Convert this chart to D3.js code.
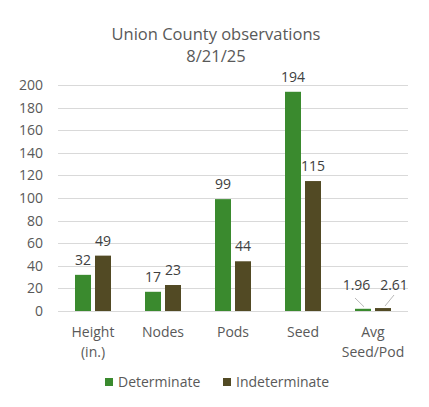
<!DOCTYPE html>
<html><head><meta charset="utf-8">
<script src="https://cdn.jsdelivr.net/npm/d3@7"></script>
<style>html,body{margin:0;padding:0;background:#fff;} svg{display:block;font-family:"Open Sans", Roboto, sans-serif;}</style>
</head><body><svg id="c" width="429" height="407"></svg>
<script>
const categories = [["Height","(in.)"],["Nodes"],["Pods"],["Seed"],["Avg","Seed/Pod"]];
const seriesNames = ["Determinate","Indeterminate"];
const determinate = [32,17,99,194,1.96];
const indeterminate = [49,23,44,115,2.61];
const yTicks = [0,20,40,60,80,100,120,140,160,180,200];
const colors = ["#3A8A2E","#524A24"];
const FONT = "'Open Sans', Roboto, sans-serif";

const svg = d3.select("#c");
const W = 429, H = 407;
const x0 = d3.scaleBand().domain(d3.range(categories.length)).range([58,408]).paddingInner(0).paddingOuter(0);
const x1 = d3.scaleBand().domain([0,1]).range([17,53]).paddingInner(0.2);
const y = d3.scaleLinear().domain([0,200]).range([311,85]);

svg.append("rect").attr("width",W).attr("height",H).attr("fill","#fff");

// title
const title = svg.append("text").attr("x",216).attr("text-anchor","middle").attr("fill","#595959").attr("font-size","16.5px");
title.append("tspan").attr("x",216).attr("y",40).text("Union County observations");
title.append("tspan").attr("x",216).attr("y",62).text("8/21/25");

// gridlines
svg.append("g").selectAll("line").data(yTicks).join("line")
  .attr("x1",58).attr("x2",408).attr("y1",d=>Math.round(y(d))+0.5).attr("y2",d=>Math.round(y(d))+0.5)
  .attr("stroke","#d9d9d9").attr("stroke-width",1);

// y axis labels
const yAxis = d3.axisLeft(y).tickValues(yTicks).tickSize(0).tickPadding(0);
const ga = svg.append("g").attr("transform","translate(43,0)").call(yAxis);
ga.select(".domain").remove();
ga.selectAll("text").attr("fill","#595959").attr("font-size","14px").attr("font-family",FONT);

const data = categories.map((c,i)=>({i, vals:[determinate[i], indeterminate[i]]}));
const g = svg.append("g").selectAll("g").data(data).join("g").attr("transform",d=>`translate(${x0(d.i)},0)`);
g.selectAll("rect").data(d=>d.vals.map((v,k)=>({v,k}))).join("rect")
  .attr("x",d=>x1(d.k)).attr("width",x1.bandwidth())
  .attr("y",d=>y(d.v)).attr("height",d=>y(0)-y(d.v))
  .attr("fill",d=>colors[d.k]);

// data labels
g.each(function(d){
  const gg = d3.select(this);
  d.vals.forEach((v,k)=>{
    const cx = x1(k)+x1.bandwidth()/2;
    if (d.i === 4) {
      const lx = k===0 ? cx-6.5 : cx+11;
      const ly = 290;
      gg.append("text").attr("x",lx).attr("y",ly).attr("text-anchor","middle")
        .attr("fill","#404040").attr("font-size","14px").text(v.toFixed(2));
      gg.append("line")
        .attr("x1", k===0 ? lx-1.5 : lx).attr("y1", k===0 ? ly+8 : ly+5)
        .attr("x2", k===0 ? cx+1 : cx+2).attr("y2", y(v)-2)
        .attr("stroke","#a6a6a6").attr("stroke-width",0.8);
    } else {
      gg.append("text").attr("x",cx).attr("y",y(v)-10).attr("text-anchor","middle")
        .attr("fill","#404040").attr("font-size","14px").text(v);
    }
  });
});

// category labels
g.each(function(d){
  const t = d3.select(this).append("text").attr("text-anchor","middle").attr("fill","#595959").attr("font-size","14px");
  categories[d.i].forEach((line,j)=>{
    t.append("tspan").attr("x",x0.bandwidth()/2).attr("y",337+j*20).text(line);
  });
});

// legend
const legendX = [105,223];
const lg = svg.append("g").selectAll("g").data(seriesNames).join("g").attr("transform",(d,i)=>`translate(${legendX[i]},0)`);
lg.append("rect").attr("x",0).attr("y",378).attr("width",8).attr("height",8).attr("fill",(d,i)=>colors[i]);
lg.append("text").attr("x",13).attr("y",387).attr("fill","#595959").attr("font-size","14px").text(d=>d);
</script></body></html>
